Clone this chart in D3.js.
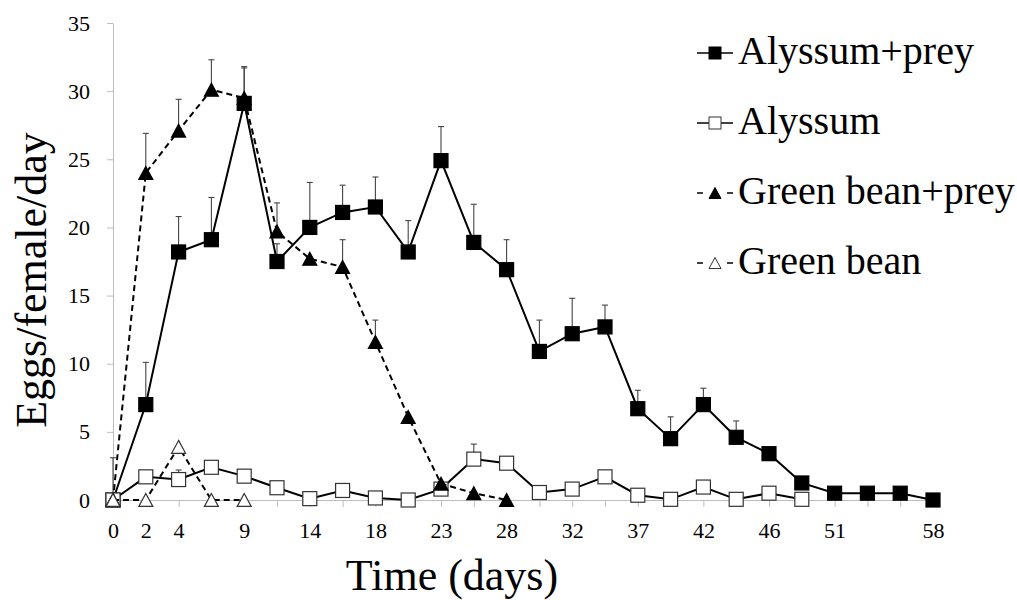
<!DOCTYPE html>
<html><head><meta charset="utf-8">
<script src="https://cdn.jsdelivr.net/npm/d3@7"></script>
<style>body{margin:0;background:#fff}svg{display:block}text{font-family:"Liberation Serif","Times New Roman",serif;fill:#000}</style>
</head><body><svg width="1017" height="600" font-family="Liberation Serif, Times New Roman, serif"></svg>
<script>
// x categories (sampling occasions); only some carry a day label
const tickLabels = ["0","2","4","","9","","14","","18","","23","","28","","32","","37","","42","","46","","51","","","58"];
const yTicks = [0,5,10,15,20,25,30,35];

const alyssumPrey    = [0,7.0,18.2,19.1,29.1,17.5,20.0,21.1,21.5,18.2,24.9,18.9,16.9,10.9,12.2,12.7,6.7,4.5,7.0,4.6,3.4,1.25,0.5,0.5,0.5,0];
const alyssumPreyErr = [3.1,3.1,2.6,3.1,2.6,1.3,3.3,2.0,2.2,2.3,2.5,2.8,2.2,2.3,2.6,1.6,1.35,1.6,1.2,1.2,0,0,0,0,0,0];
const alyssum        = [0,1.7,1.5,2.4,1.75,0.9,0.1,0.7,0.15,0,0.8,3.0,2.7,0.55,0.8,1.7,0.35,0.05,0.95,0.05,0.5,0.05];
const alyssumErr     = [0,0,0.7,0,0,0,0,0,0,0,0,1.1,0,0,0,0,0,0,0,0,0,0];
const greenBeanPrey    = [0,24.0,27.1,30.1,29.5,19.7,17.7,17.1,11.6,6.1,1.2,0.5,0];
const greenBeanPreyErr = [0,2.9,2.3,2.2,2.3,2.1,0,2.0,1.6,0,0,0,0];
const greenBean    = [0,0,3.9,0,0];
const greenBeanErr = [0,0,0,0,0];

const seriesNames = ["Alyssum+prey","Alyssum","Green bean+prey","Green bean"];

const series = [
  {name: seriesNames[0], values: alyssumPrey, err: alyssumPreyErr, shape: "square", fill: "#000", dash: null},
  {name: seriesNames[1], values: alyssum, err: alyssumErr, shape: "square", fill: "#fff", dash: null},
  {name: seriesNames[2], values: greenBeanPrey, err: greenBeanPreyErr, shape: "triangle", fill: "#000", dash: "6,4"},
  {name: seriesNames[3], values: greenBean, err: greenBeanErr, shape: "triangle", fill: "#fff", dash: "6,4"}
];

const FONT = '"Liberation Serif","Times New Roman",serif';
const svg = d3.select("svg");
const x = d3.scalePoint().domain(d3.range(tickLabels.length)).range([113, 933]);
const y = d3.scaleLinear().domain([0, 35]).range([500, 23]);

// axes
const yAxis = svg.append("g").attr("transform", "translate(113,0)")
  .call(d3.axisLeft(y).tickValues(yTicks).tickSize(6).tickSizeOuter(0).tickPadding(17));
const xAxis = svg.append("g").attr("transform", "translate(0,500)")
  .call(d3.axisBottom(x).tickSize(7).tickSizeOuter(0).tickPadding(15).tickFormat(i => tickLabels[i]));
[yAxis, xAxis].forEach(g => {
  g.attr("font-family", FONT).attr("font-size", 22);
  g.selectAll("path,line").attr("stroke", "#bdbdbd").attr("stroke-width", 1);
  g.selectAll("text").attr("font-family", FONT).style("font-family", FONT).style("font-size", "22px").attr("fill", "#000");
});

function marker(sel, shape, size) {
  if (shape === "square") {
    return sel.append("rect").attr("x", -size/2).attr("y", -size/2).attr("width", size).attr("height", size);
  }
  const w = size, h = size * 0.92;
  return sel.append("path").attr("d", `M0,${-h/2}L${w/2},${h/2}L${-w/2},${h/2}Z`);
}

const line = d3.line().x((d, i) => x(i)).y(d => y(d));

series.forEach(s => {
  const g = svg.append("g");
  // error bars (upper)
  s.values.forEach((v, i) => {
    const e = s.err[i];
    if (!e) return;
    g.append("line").attr("x1", x(i)).attr("x2", x(i)).attr("y1", y(v)).attr("y2", y(v + e))
      .attr("stroke", "#444").attr("stroke-width", 1.1);
    g.append("line").attr("x1", x(i) - 3).attr("x2", x(i) + 3).attr("y1", y(v + e)).attr("y2", y(v + e))
      .attr("stroke", "#444").attr("stroke-width", 1.1);
  });
  g.append("path").datum(s.values).attr("d", line).attr("fill", "none")
    .attr("stroke", "#000").attr("stroke-width", 2).attr("stroke-dasharray", s.dash);
  s.values.forEach((v, i) => {
    const m = g.append("g").attr("transform", `translate(${x(i)},${y(v)})`);
    marker(m, s.shape, 14).attr("fill", s.fill).attr("stroke", s.fill === "#000" ? "#000" : "#333").attr("stroke-width", 1.2);
  });
});

// legend
const leg = svg.append("g");
series.forEach((s, k) => {
  const cy = 53 + k * 70;
  const g = leg.append("g").attr("transform", `translate(0,${cy})`);
  if (s.dash) {
    g.append("line").attr("x1", 697).attr("x2", 703).attr("y1", 0).attr("y2", 0).attr("stroke", "#000").attr("stroke-width", 1.5);
    g.append("line").attr("x1", 727).attr("x2", 733).attr("y1", 0).attr("y2", 0).attr("stroke", "#000").attr("stroke-width", 1.5);
  } else {
    g.append("line").attr("x1", 697).attr("x2", 733).attr("y1", 0).attr("y2", 0).attr("stroke", "#000").attr("stroke-width", 1.5);
  }
  const m = g.append("g").attr("transform", "translate(715,0)");
  marker(m, s.shape, 12).attr("fill", s.fill).attr("stroke", s.fill === "#000" ? "#000" : "#333").attr("stroke-width", 1);
  g.append("text").attr("x", 738).attr("y", 11).attr("font-family", FONT).style("font-size", "40px").text(s.name);
});

// axis titles
svg.append("text").attr("transform", "translate(46,280) rotate(-90)").attr("text-anchor", "middle")
  .attr("font-family", FONT).style("font-size", "44px").text("Eggs/female/day");
svg.append("text").attr("x", 452).attr("y", 590).attr("text-anchor", "middle")
  .attr("font-family", FONT).style("font-size", "44px").text("Time (days)");
</script>
</body></html>
